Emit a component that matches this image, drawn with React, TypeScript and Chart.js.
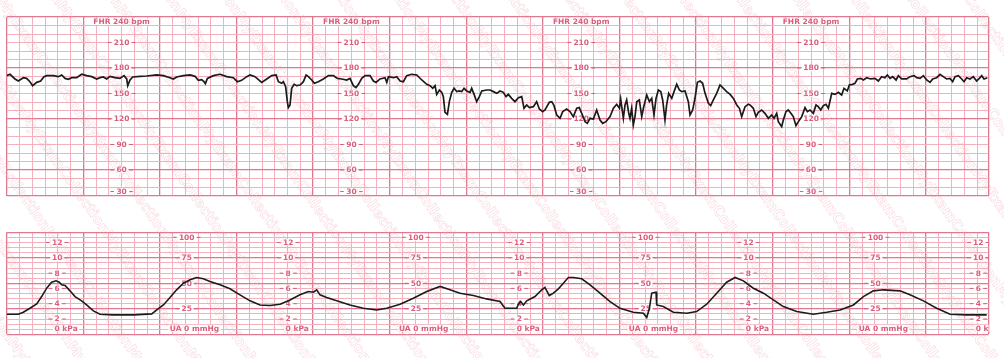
import React, { useEffect, useRef } from "react";
import { Chart, registerables } from "chart.js";

Chart.register(...registerables);

// FHR trace: [time in seconds, beats per minute]
const fhrPoints: [number, number][] = [
  [0, 171], [2.6, 172.6], [6.5, 167.1], [9.1, 164.7], [13, 168.6], [15.6, 167.8], [18.2, 163.9], [20.3, 159.2],
  [23.5, 163.1], [26.6, 164.7], [29.2, 169.8], [31.3, 171], [36.5, 171], [40.4, 169.8], [43.1, 171.8], [45.7, 167.8],
  [48.3, 166.7], [50.9, 168.6], [54.8, 168.6], [58.7, 172.6], [62.6, 171], [66.6, 169.8], [70.5, 167.1], [73.1, 168.6],
  [75.7, 169.4], [78.3, 167.1], [80.9, 170.2], [84.8, 168.6], [88.7, 167.8], [91.9, 171], [94, 167.1], [94.8, 159.2],
  [96.6, 165.9], [98.7, 169.4], [104.4, 170.2], [109.6, 170.6], [117.5, 171.8], [122.7, 171], [127.9, 168.6], [130.5, 167.1],
  [133.1, 169.4], [138.4, 171], [143.6, 171.8], [147.5, 170.2], [150.1, 165.5], [152.7, 166.3], [154.5, 163.9], [155.6, 161.6],
  [157.2, 167.8], [161.9, 171], [167.1, 172.6], [172.3, 169.8], [177.5, 168.6], [180.7, 163.9], [184, 165.5], [188, 169.8],
  [190.6, 171.8], [194.5, 169.8], [199.7, 163.1], [203.7, 167.1], [207.6, 171], [211, 171.8], [212.8, 163.9], [215.4, 162],
  [216.7, 163.9], [218.5, 158], [219.8, 140.4], [220.6, 133.4], [221.9, 136.5], [223.2, 156.1], [225.1, 160.8], [227.2, 159.2],
  [229.8, 160], [232.4, 163.9], [234.5, 171.8], [236.3, 169.8], [238.9, 165.9], [241, 162], [244.1, 163.9], [248, 167.1],
  [252, 171], [255.9, 171], [259, 167.8], [262.4, 167.1], [266.3, 165.9], [268.9, 167.8], [271.5, 159.2], [273.6, 156.9],
  [275.5, 160.8], [278.1, 167.8], [280.7, 171], [284.6, 171], [287.2, 164.7], [289.3, 163.1], [292.4, 167.1], [296.3, 168.6],
  [297.7, 163.1], [299, 169.8], [302.9, 168.6], [305.5, 169.8], [308.1, 164.7], [310.7, 163.9], [313.3, 171], [317.2, 172.6],
  [321.2, 171.8], [325.1, 165.9], [329, 160.8], [331.6, 159.2], [333.7, 156.1], [335.5, 159.2], [336.8, 149], [338.9, 154.1],
  [340.7, 151.4], [342, 146.3], [343.3, 127.9], [345.2, 125.5], [346.7, 140.4], [348.6, 151.4], [350.4, 156.1], [352.5, 152.2],
  [354.6, 153], [356.4, 152.2], [358.2, 156.1], [360.3, 153], [362.9, 151.4], [364.2, 156.1], [366.1, 149], [368.1, 140.4],
  [370.2, 146.3], [372.1, 153], [376, 154.1], [378.6, 154.1], [381.2, 152.2], [383.8, 150.2],
  [386.4, 153], [389, 151.4], [391.1, 146.3], [392.9, 149], [395.5, 144.3], [398.1, 140.4], [400.8, 145.1], [403.4, 146.3],
  [405.2, 132.6], [407.3, 136.5], [409.4, 133.4], [412.5, 134.5], [415.1, 140.4], [417.2, 131.8], [419.8, 128.7], [421.6, 130.6],
  [425, 139.6], [426.9, 140.4], [428.7, 135.7], [430.8, 124.7], [433.4, 120.8], [435.5, 128.7], [438.6, 131.8], [441.2, 128.7],
  [443.8, 122.8], [446.5, 132.6], [448.5, 133.4], [450.4, 126.7], [453, 116.9], [454.8, 114.9], [456.9, 120.8], [459.5, 120],
  [462.1, 130.6], [464.7, 118.8], [466.8, 114.9], [469.4, 116.9], [472.6, 122.8], [475.2, 132.6], [477.8, 137.3], [479.9, 132.6],
  [480.9, 143.5], [483, 120.8], [484.3, 136.5], [485.6, 142.4], [487.2, 126.7], [488.2, 120.8], [489.5, 132.6], [490.8, 113],
  [492.1, 122.8], [493.5, 140.4], [495.5, 142.4], [497.4, 122.8], [498.7, 132.6], [501.3, 148.2], [503.4, 140.4], [505.2, 144.3],
  [507, 124.7], [508.6, 144.3], [510.4, 154.1], [512.3, 152.2], [513.8, 142.4], [515.6, 118.8], [516.9, 136.5], [518.5, 150.2],
  [520.9, 144.3], [522.7, 152.2], [524.8, 160.8], [526.9, 154.1], [528.7, 152.2], [531.3, 153], [533.9, 140.4], [535.2, 124.7],
  [537.3, 130.6], [539.1, 144.3], [541, 163.1], [543.1, 164.7], [545.1, 162], [547, 150.2], [549.6, 138.4], [551.4, 135.7],
  [553.5, 142.4], [556.1, 150.2], [558.7, 160], [560.8, 156.9], [563.9, 152.2], [566.6, 149], [569.2, 144.3], [571.8, 136.5],
  [573.9, 132.6], [575.7, 122.8], [578.3, 134.5], [580.9, 137.3],
  [582.2, 136.5], [584.8, 132.6], [586.9, 122.8], [588.7, 127.9], [591.3, 130.6], [593.9, 126.7], [596.6, 120.8], [599.2, 124.7],
  [601, 120.8], [603.1, 126.7], [604.4, 116.9], [607, 111], [608.3, 118.8], [610.4, 128.7], [612.2, 130.6], [614.8, 125.5],
  [616.1, 122.8], [618.2, 112.2], [620.1, 116.9], [622.7, 122.8], [625.3, 133.4], [627.1, 128.7], [629.2, 130.6], [631.8, 126.7],
  [633.9, 136.5], [635.7, 134.5], [637.6, 130.6], [639.6, 135.7], [641.7, 137.3], [643.6, 132.6], [646.2, 150.2], [648.8, 149],
  [651.4, 151.4], [654, 148.2], [655.8, 156.1], [658.4, 153], [660, 160], [662.6, 160.8], [664.4, 162], [666.3, 167.1],
  [668.9, 167.8], [671, 165.9], [673.6, 168.6], [676.7, 167.1], [680.1, 167.8], [682.7, 164.7], [685.3, 169.8], [687.9, 168.6],
  [689.8, 171.8], [691.9, 167.8], [693.9, 169.8], [696.6, 165.9], [698.4, 171], [701, 167.1], [704.9, 167.1], [707.5, 169.8],
  [710.7, 171], [712.8, 168.6], [715.4, 167.8], [718, 171], [720.6, 165.9], [723.2, 163.1], [725.3, 167.1], [728.4, 168.6],
  [731, 172.6], [733.6, 169.8], [736.2, 167.1], [738.9, 167.8], [740.9, 163.9], [742.8, 169.8], [745.4, 171], [748, 167.1],
  [749.8, 163.9], [751.9, 168.6], [754.5, 167.1], [757.1, 169.8], [759.7, 164.7], [761.8, 167.8], [763.7, 171], [765.5, 167.1],
  [768.1, 168.6],
];

// Uterine activity trace: [time in seconds, mmHg]
const uaPoints: [number, number][] = [
  [0, 19.6], [9.1, 19.6], [13, 21.6], [18.2, 25.5], [23.5, 29.8], [27.4, 37], [31.3, 45.2], [35.2, 51.1], [38.6, 52.4],
  [41.2, 51.1], [43.1, 48.5], [45.7, 47.8], [49.6, 42.6], [53.5, 37], [58.7, 32.8], [62.6, 28.8], [67.9, 22.9], [73.1, 19.6],
  [83.5, 19], [99.2, 19], [113.6, 20], [117.5, 23.9], [122.7, 28.8], [127.9, 36], [133.1, 43.6], [138.4, 50.1], [143.6, 53.4],
  [148.8, 55.7], [154, 54.4], [159.2, 51.8], [167.1, 48.5], [174.9, 44.6], [182.7, 38.7], [190.6, 32.8], [198.4, 28.8],
  [206.2, 28.2], [214.1, 29.5], [221.9, 33.7], [229.7, 38.7], [236.3, 41.9], [240.2, 41.3], [242.8, 43.6], [245.4, 38.7],
  [250.6, 36], [258.5, 32.8], [268.9, 28.8], [279.3, 25.5], [289.8, 23.9], [297.6, 25.5], [308.1, 29.5], [318.5, 35.4],
  [329, 41.9], [339.4, 46.9], [347.2, 43.6], [355.1, 40.3], [365.5, 38], [375.9, 34.7], [386.4, 32.1], [390.3, 25.5],
  [399.5, 25.5], [400.8, 29.5], [402.6, 32.1], [404.7, 28.8], [407.3, 32.8], [411.2, 35.4], [413.8, 37], [416.4, 40.3],
  [419, 43.6], [421.6, 45.9], [423, 42.6], [425, 38], [428.2, 40.3], [432.1, 44.6], [436, 50.1], [439.9, 55.7], [443.8, 55.7],
  [450.4, 54.4], [456.9, 48.5], [464.7, 40.3], [472.6, 32.1], [480.4, 25.5], [490.8, 21.6], [498.7, 20.6], [501.3, 16.4],
  [503.4, 25.5], [505.2, 40.3], [508.6, 41.3], [509.1, 28.8], [514.3, 27.2], [522.2, 21.6], [532.6, 20.6], [540.4, 22.3],
  [548.3, 29.5], [556.1, 40.3], [563.9, 51.1], [570.5, 55.7], [577, 52.4], [584.8, 45.2], [592.7, 40.3], [600.5, 33.7],
  [608.3, 27.2], [618.8, 22.3], [631.8, 19.6], [642.3, 21.6], [652.7, 23.9], [663.2, 28.8], [671, 37], [678.8, 42.6],
  [686.7, 43.6], [699.7, 42.6], [707.5, 38.7], [718, 32.8], [728.4, 25.5], [738.9, 19.6], [751.9, 19], [767.6, 19],
];

// Printed scale labels
const fhrLabelValues = [210, 180, 150, 120, 90, 60, 30];
const fhrHeader = "FHR 240 bpm";
const fhrLabelColumns = [90, 270, 450, 630]; // seconds
const kpaLabelValues = [12, 10, 8, 6, 4, 2];
const kpaZeroLabel = ["0", " kPa"];
const kpaLabelColumns = [39.5, 220.5, 401.5, 581, 761];
const mmHgLabelValues = [100, 75, 50, 25];
const mmHgZeroLabel = ["UA ", "0", " mmHg"];
const mmHgLabelColumns = [141, 320.5, 500.5, 680.5];
const watermarkText = "MyExamCollection";

const TIME_MAX = 769;
const MINOR_SEC = 10;
const MAJOR_SEC = 60;
const FHR_MIN = 30;
const FHR_MAX = 240;
const FHR_STEP = 10;
const UA_MIN = 0;
const UA_MAX = 100;
const UA_STEP = 5;
const KPA_TO_MMHG = 7.50062;

const MINOR = "#f4b1bd";
const MAJOR = "#e07990";
const LABEL = "#db5c7b";
const TRACE = "#1b1b1b";
const LABEL_FONT = "bold 7.5px 'DejaVu Sans'";

const range = (a: number, b: number, s: number) => {
  const out: number[] = [];
  for (let v = a; v <= b + 1e-9; v += s) out.push(v);
  return out;
};

const xTickValues = [...range(0, TIME_MAX, MINOR_SEC), TIME_MAX];
const fhrTickValues = range(FHR_MIN, FHR_MAX, FHR_STEP);
const uaTickValues = range(UA_MIN, UA_MAX, UA_STEP);

const isMajorTime = (v: number) => v % MAJOR_SEC === 0 || v === TIME_MAX;
const isMajorFhr = (v: number) => v % 60 === 0 || v === FHR_MIN;
const isMajorUa = (v: number) => v % 25 === 0;

function boxedText(ctx: CanvasRenderingContext2D, text: string, cx: number, cy: number, dashes: boolean) {
  ctx.font = LABEL_FONT;
  const w = ctx.measureText(text).width;
  ctx.fillStyle = "#ffffff";
  ctx.fillRect(cx - w / 2 - 1.5, cy - 3.5, w + 3, 7);
  if (dashes) {
    ctx.strokeStyle = LABEL;
    ctx.lineWidth = 1;
    ctx.beginPath();
    ctx.moveTo(cx - w / 2 - 6, cy);
    ctx.lineTo(cx - w / 2 - 2.5, cy);
    ctx.moveTo(cx + w / 2 + 2.5, cy);
    ctx.lineTo(cx + w / 2 + 6, cy);
    ctx.stroke();
  }
  ctx.fillStyle = LABEL;
  ctx.textAlign = "center";
  ctx.textBaseline = "middle";
  ctx.fillText(text, cx, cy + 0.5);
}

function anchoredText(ctx: CanvasRenderingContext2D, parts: string[], anchorIdx: number, cx: number, cy: number) {
  ctx.font = LABEL_FONT;
  const full = parts.join("");
  const before = parts.slice(0, anchorIdx).join("");
  const wb = ctx.measureText(before).width;
  const wa = ctx.measureText(parts[anchorIdx]).width;
  const w = ctx.measureText(full).width;
  const left = cx - wb - wa / 2;
  ctx.fillStyle = "#ffffff";
  ctx.fillRect(left - 1.5, cy - 3.5, w + 3, 7);
  ctx.fillStyle = LABEL;
  ctx.textAlign = "left";
  ctx.textBaseline = "middle";
  ctx.fillText(full, left, cy + 0.5);
}

const clipArea = (chart: any) => {
  const a = chart.chartArea;
  chart.ctx.beginPath();
  chart.ctx.rect(a.left, a.top, a.right - a.left, a.bottom - a.top);
  chart.ctx.clip();
};

const fhrLabelsPlugin = {
  id: "fhrLabels",
  beforeDatasetsDraw(chart: any) {
    const { ctx, chartArea: a, scales } = chart;
    ctx.save();
    clipArea(chart);
    for (const col of fhrLabelColumns) {
      const cx = scales.x.getPixelForValue(col);
      boxedText(ctx, fhrHeader, cx, a.top + 4.5, false);
      for (const v of fhrLabelValues) {
        const py = Math.min(scales.y.getPixelForValue(v), a.bottom - 4);
        boxedText(ctx, String(v), cx, py, true);
      }
    }
    ctx.restore();
  },
};

const uaLabelsPlugin = {
  id: "uaLabels",
  beforeDatasetsDraw(chart: any) {
    const { ctx, chartArea: a, scales } = chart;
    ctx.save();
    clipArea(chart);
    for (const col of kpaLabelColumns) {
      const cx = scales.x.getPixelForValue(col);
      for (const k of kpaLabelValues) {
        boxedText(ctx, String(k), cx, scales.y.getPixelForValue(k * KPA_TO_MMHG), true);
      }
      anchoredText(ctx, kpaZeroLabel, 0, cx, a.bottom - 6);
    }
    for (const col of mmHgLabelColumns) {
      const cx = scales.x.getPixelForValue(col);
      for (const m of mmHgLabelValues) {
        const py = Math.max(scales.y.getPixelForValue(m), a.top + 5);
        boxedText(ctx, String(m), cx, py, true);
      }
      anchoredText(ctx, mmHgZeroLabel, 1, cx, a.bottom - 6);
    }
    ctx.restore();
  },
};

const makeWatermark = (offsetY: number) => ({
  id: "watermark",
  beforeDatasetsDraw(chart: any) {
    const ctx: CanvasRenderingContext2D = chart.ctx;
    ctx.save();
    ctx.translate(0, -offsetY);
    const ang = (55 * Math.PI) / 180;
    ctx.rotate(ang);
    ctx.font = "bold 14px 'DejaVu Sans'";
    ctx.textAlign = "left";
    ctx.textBaseline = "middle";
    ctx.strokeStyle = "rgba(238,160,175,0.38)";
    ctx.lineWidth = 0.65;
    const tw = ctx.measureText(watermarkText).width;
    const long = watermarkText.repeat(10);
    const band = 57 * Math.sin(ang);
    for (let k = -6; k <= 20; k++) {
      const w = -k * band;
      const phase = ((k * 37) % tw) - 2 * tw;
      ctx.strokeText(long, phase, w);
    }
    ctx.restore();
  },
});

const gridFor = (isMajor: (v: number) => boolean) => ({
  drawTicks: false,
  color: (c: any) => (isMajor(c.tick?.value ?? 0) ? MAJOR : MINOR),
  lineWidth: (c: any) => (isMajor(c.tick?.value ?? 0) ? 1.3 : 1),
});

const xScale = {
  type: "linear" as const,
  min: 0,
  max: TIME_MAX,
  afterBuildTicks: (s: any) => {
    s.ticks = xTickValues.map((v) => ({ value: v }));
  },
  ticks: { display: false },
  grid: gridFor(isMajorTime),
  border: { display: false },
};

export default function App() {
  const topRef = useRef<HTMLCanvasElement>(null);
  const botRef = useRef<HTMLCanvasElement>(null);

  useEffect(() => {
    const top = new Chart(topRef.current as HTMLCanvasElement, {
      type: "line",
      data: {
        datasets: [
          {
            data: fhrPoints.map(([t, v]) => ({ x: t, y: v })),
            borderColor: TRACE,
            borderWidth: 1.7,
            pointRadius: 0,
            tension: 0,
          },
        ],
      },
      options: {
        responsive: false,
        animation: false,
        devicePixelRatio: 1,
        layout: { autoPadding: false, padding: { left: 6.7, right: 15.5, top: 17, bottom: 18.5 } },
        plugins: { legend: { display: false }, tooltip: { enabled: false } },
        scales: {
          x: xScale,
          y: {
            type: "linear",
            min: FHR_MIN,
            max: FHR_MAX,
            afterBuildTicks: (s: any) => {
              s.ticks = fhrTickValues.map((v) => ({ value: v }));
            },
            ticks: { display: false },
            grid: gridFor(isMajorFhr),
            border: { display: false },
          },
        },
      } as any,
      plugins: [fhrLabelsPlugin, makeWatermark(0)],
    });

    const bot = new Chart(botRef.current as HTMLCanvasElement, {
      type: "line",
      data: {
        datasets: [
          {
            data: uaPoints.map(([t, v]) => ({ x: t, y: v })),
            borderColor: TRACE,
            borderWidth: 1.6,
            pointRadius: 0,
            tension: 0,
          },
        ],
      },
      options: {
        responsive: false,
        animation: false,
        devicePixelRatio: 1,
        layout: { autoPadding: false, padding: { left: 6.7, right: 15.5, top: 18.3, bottom: 23.7 } },
        plugins: { legend: { display: false }, tooltip: { enabled: false } },
        scales: {
          x: xScale,
          y: {
            type: "linear",
            min: UA_MIN,
            max: UA_MAX,
            afterBuildTicks: (s: any) => {
              s.ticks = uaTickValues.map((v) => ({ value: v }));
            },
            ticks: { display: false },
            grid: gridFor(isMajorUa),
            border: { display: false },
          },
        },
      } as any,
      plugins: [uaLabelsPlugin, makeWatermark(214)],
    });

    return () => {
      top.destroy();
      bot.destroy();
    };
  }, []);

  return (
    <div style={{ position: "fixed", left: 0, top: 0, width: 1004, height: 358, background: "#ffffff", overflow: "hidden" }}>
      <canvas ref={topRef} width={1004} height={214} style={{ position: "absolute", left: 0, top: 0, width: 1004, height: 214 }} />
      <canvas ref={botRef} width={1004} height={144} style={{ position: "absolute", left: 0, top: 214, width: 1004, height: 144 }} />
    </div>
  );
}
